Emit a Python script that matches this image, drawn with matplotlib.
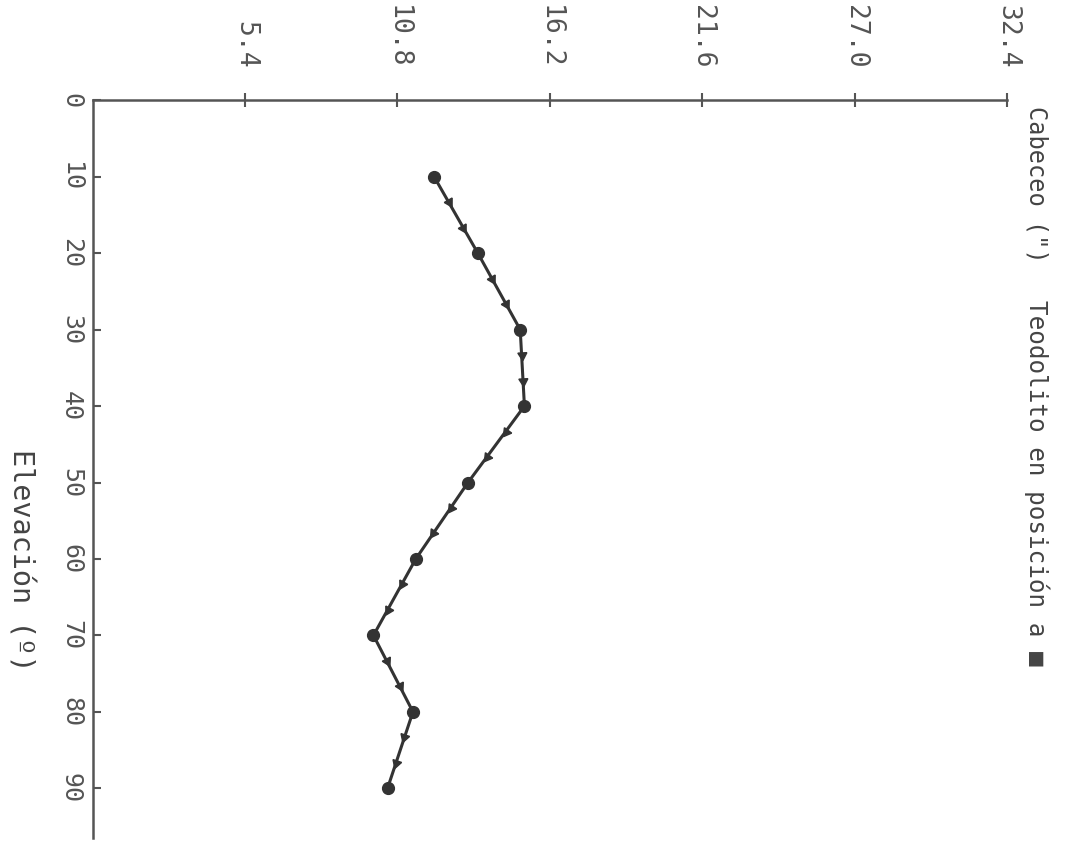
import numpy as np
import matplotlib
matplotlib.use("Agg")
import matplotlib.pyplot as plt

elevacion = [10, 20, 30, 40, 50, 60, 70, 80, 90]
cabeceo = [12.1, 13.65, 15.15, 15.3, 13.3, 11.45, 9.95, 11.35, 10.45]
cab_ticks = [5.4, 10.8, 16.2, 21.6, 27.0, 32.4]
cab_labels = ["5.4", "10.8", "16.2", "21.6", "27.0", "32.4"]
elev_ticks = [0, 10, 20, 30, 40, 50, 60, 70, 80, 90]
elev_labels = ["0", "10", "20", "30", "40", "50", "60", "70", "80", "90"]

mono = "DejaVu Sans Mono"
axcol = "#555555"
linecol = "#333333"

fig = plt.figure(figsize=(10.76, 8.43), dpi=100)
ax = fig.add_axes([0.0861, 0.006, 0.8498, 0.875])
ax.set_xlim(0, 32.4)
ax.set_ylim(96.5, 0)

ax.plot(cabeceo, elevacion, color=linecol, lw=2.2, marker="o", ms=8.5,
        solid_capstyle="round")

# little arrowheads along each segment (direction of increasing elevation)
fig.canvas.draw()
pts = ax.transData.transform(np.column_stack([cabeceo, elevacion]))
for i in range(len(cabeceo) - 1):
    (x0, y0), (x1, y1) = pts[i], pts[i + 1]
    ang = np.degrees(np.arctan2(y1 - y0, x1 - x0))
    for f in (1 / 3, 2 / 3):
        px = cabeceo[i] + f * (cabeceo[i + 1] - cabeceo[i])
        py = elevacion[i] + f * (elevacion[i + 1] - elevacion[i])
        ax.plot(px, py, marker=(3, 0, ang - 90), ms=7.5, color=linecol, lw=0)

for s in ("right", "bottom"):
    ax.spines[s].set_visible(False)
for s in ("top", "left"):
    ax.spines[s].set_color(axcol)
    ax.spines[s].set_linewidth(1.8)

ax.xaxis.tick_top()
ax.set_xticks(cab_ticks)
ax.set_xticklabels(cab_labels, rotation=-90, fontfamily=mono, fontsize=19,
                   color=axcol)
ax.tick_params(axis="x", direction="inout", length=10, width=1.5,
               color=axcol, pad=18)
for t in ax.get_xticklabels():
    t.set_va("bottom")
    t.set_ha("center")

ax.set_yticks(elev_ticks)
ax.set_yticklabels(elev_labels, rotation=-90, fontfamily=mono, fontsize=18,
                   color=axcol)
ax.tick_params(axis="y", direction="in", length=6, width=1.5,
               color=axcol, pad=7)
for t in ax.get_yticklabels():
    t.set_va("center")
    t.set_ha("right")

fig.text(1037 / 1076, 1 - 106 / 843, 'Cabeceo (")', rotation=-90,
         fontfamily=mono, fontsize=17, color="#444444", ha="center", va="top")
fig.text(1037 / 1076, 1 - 300 / 843, "Teodolito en posición a ■", rotation=-90,
         fontfamily=mono, fontsize=17.5, color="#444444", ha="center", va="top")
fig.text(20 / 1076, 1 - 560 / 843, "Elevación (º)", rotation=-90,
         fontfamily=mono, fontsize=20.5, color="#444444", ha="center",
         va="center")

fig.savefig("out.png", dpi=100)
